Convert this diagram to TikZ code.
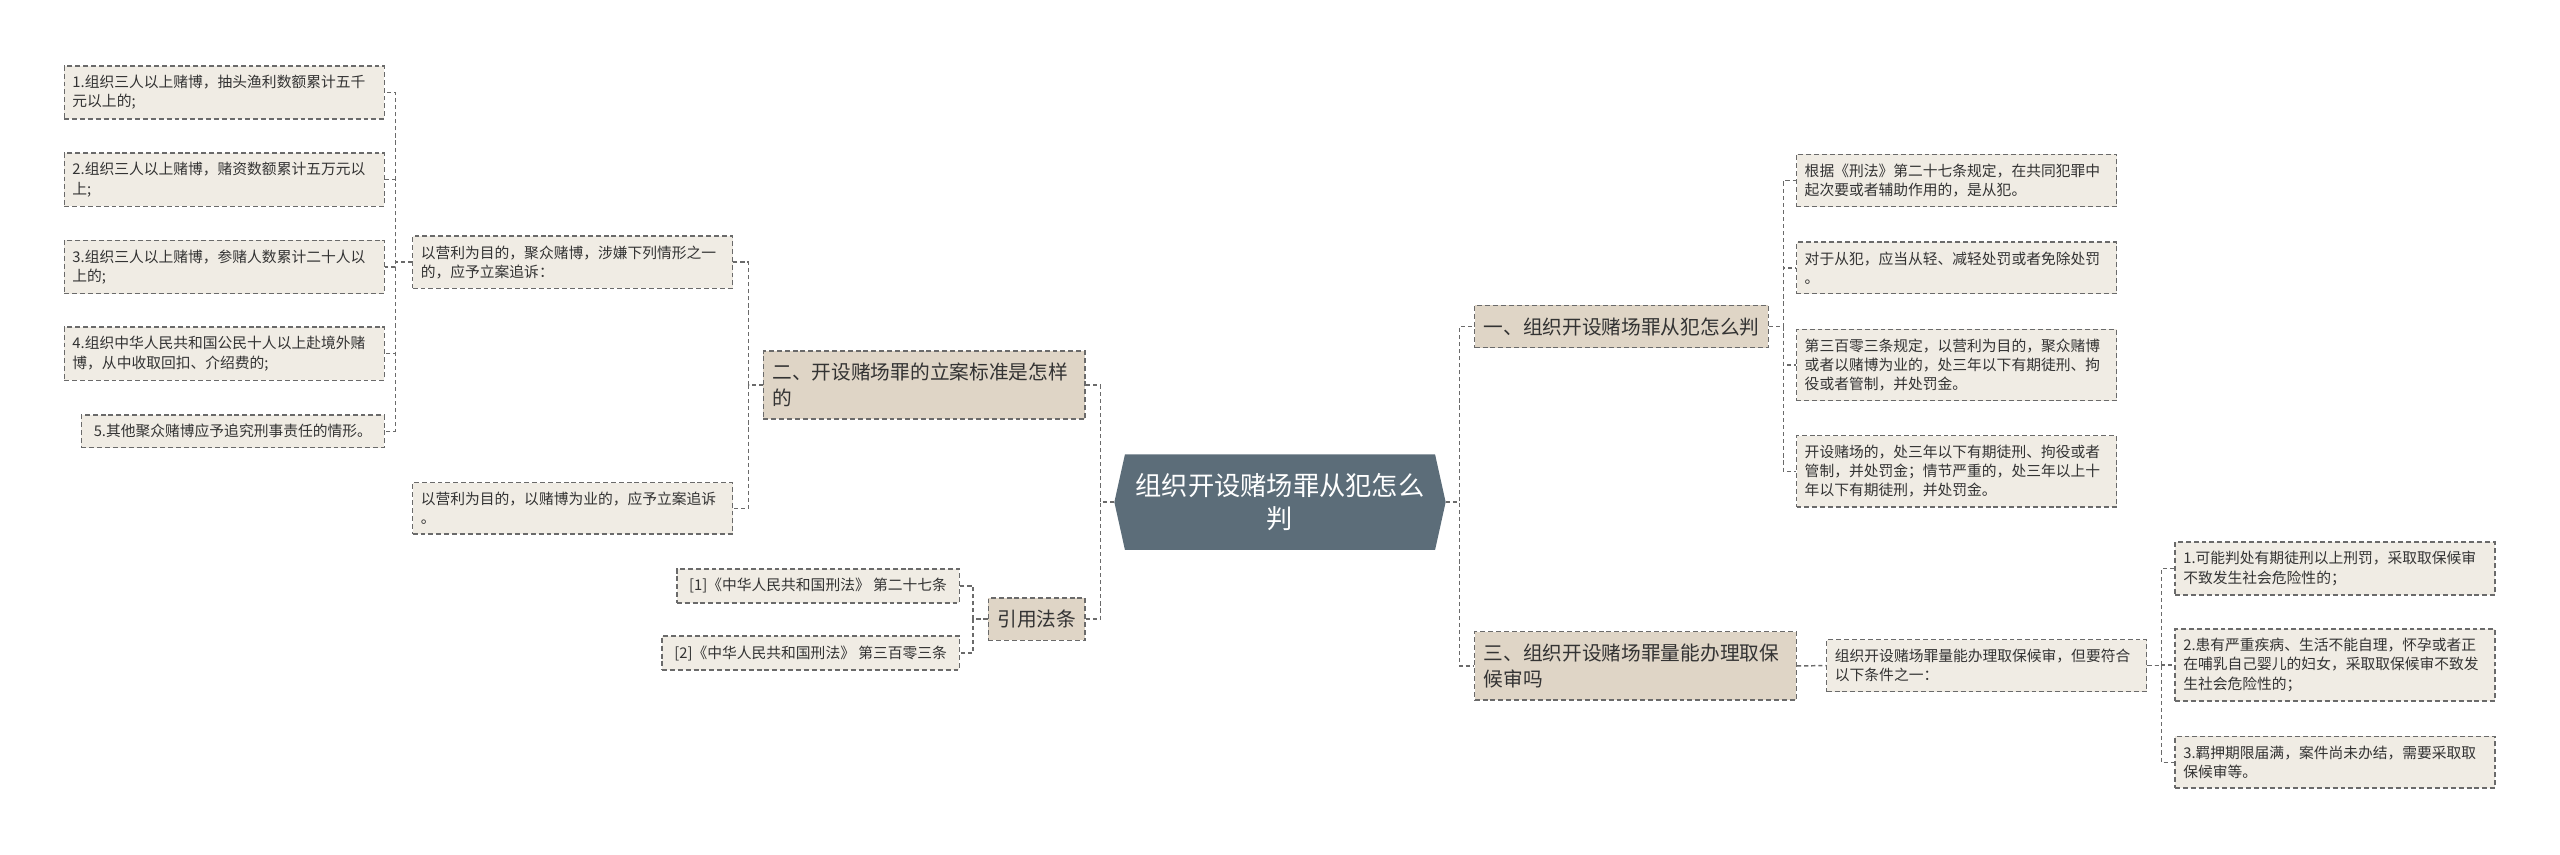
\documentclass[tikz,border=0pt]{standalone}
\usepackage{fontspec}
\setmainfont{Noto Sans CJK SC}
\usepackage{xcolor}
\usetikzlibrary{shapes.symbols, positioning}
\definecolor{leaffill}{HTML}{F0ECE4}
\definecolor{branchfill}{HTML}{DFD5C6}
\definecolor{rootfill}{HTML}{5C6D79}
\definecolor{edgegray}{HTML}{6A6A6A}
\definecolor{textgray}{HTML}{333333}

\begin{document}
\begin{tikzpicture}[
        x=1pt, y=-1pt,
        box/.style={draw=edgegray, line width=0.9pt, dash pattern=on 3pt off 1.8pt, text=textgray},
        leaf/.style={box, fill=leaffill, font=\fontsize{9}{11.6}\selectfont, align=left, inner xsep=7.5pt, inner ysep=5.8pt},
        wideleaf/.style={leaf, inner xsep=5pt, text width=185pt},
        branch/.style={box, fill=branchfill, font=\fontsize{12}{16}\selectfont, align=left, inner xsep=5.5pt, inner ysep=7.3pt},
        widebranch/.style={branch, text width=185pt},
        root/.style={shape=signal, signal to=west and east, signal pointer angle=155, fill=rootfill, text=white, font=\fontsize{16}{20.5}\selectfont, align=center, inner xsep=6.5pt, inner ysep=11.4pt},
        link/.style={draw=edgegray, line width=0.9pt, dash pattern=on 2.5pt off 1.8pt}
        ]
        \useasboundingbox (0,0) rectangle (1560,521);

        % Nodes
        \node[root] (root) at (780,306) {组织开设赌场罪从犯怎么\\判};

        \node[widebranch, anchor=east] (lian) at (661.7,234.7) {二、开设赌场罪的立案标准是怎样\\的};
        \node[branch, anchor=east] (fatiao) at (661.7,377.3) {引用法条};
        \node[branch, anchor=west] (congfan) at (898.2,199) {一、组织开设赌场罪从犯怎么判};
        \node[widebranch, anchor=west] (qubao) at (898.2,405.8) {三、组织开设赌场罪量能办理取保\\候审吗};

        \node[wideleaf, anchor=east] (juzhong) at (446.9,159.8) {以营利为目的，聚众赌博，涉嫌下列情形之一\\的，应予立案追诉：};
        \node[wideleaf, anchor=east] (weiye) at (446.9,309.8) {以营利为目的，以赌博为业的，应予立案追诉\\。};

        \node[wideleaf, anchor=east] (qing1) at (234.6,56.4) {1.组织三人以上赌博，抽头渔利数额累计五千\\元以上的;};
        \node[wideleaf, anchor=east] (qing2) at (234.6,109.5) {2.组织三人以上赌博，赌资数额累计五万元以\\上;};
        \node[wideleaf, anchor=east] (qing3) at (234.6,162.7) {3.组织三人以上赌博，参赌人数累计二十人以\\上的;};
        \node[wideleaf, anchor=east] (qing4) at (234.6,215.5) {4.组织中华人民共和国公民十人以上赴境外赌\\博，从中收取回扣、介绍费的;};
        \node[leaf, anchor=east] (qing5) at (234.6,262.8) {5.其他聚众赌博应予追究刑事责任的情形。};

        \node[leaf, anchor=east] (fa1) at (585,357) {[1]《中华人民共和国刑法》 第二十七条};
        \node[leaf, anchor=east] (fa2) at (585,398) {[2]《中华人民共和国刑法》 第三百零三条};

        \node[wideleaf, anchor=west] (cf1) at (1094.3,110) {根据《刑法》第二十七条规定，在共同犯罪中\\起次要或者辅助作用的，是从犯。};
        \node[wideleaf, anchor=west] (cf2) at (1094.3,163.3) {对于从犯，应当从轻、减轻处罚或者免除处罚\\。};
        \node[wideleaf, anchor=west] (cf3) at (1094.3,222.4) {第三百零三条规定，以营利为目的，聚众赌博\\或者以赌博为业的，处三年以下有期徒刑、拘\\役或者管制，并处罚金。};
        \node[wideleaf, anchor=west] (cf4) at (1094.3,287.2) {开设赌场的，处三年以下有期徒刑、拘役或者\\管制，并处罚金；情节严重的，处三年以上十\\年以下有期徒刑，并处罚金。};

        \node[wideleaf, anchor=west] (tiaojian) at (1112.7,405.6) {组织开设赌场罪量能办理取保候审，但要符合\\以下条件之一：};
        \node[wideleaf, anchor=west] (tj1) at (1325,346.4) {1.可能判处有期徒刑以上刑罚，采取取保候审\\不致发生社会危险性的；};
        \node[wideleaf, anchor=west] (tj2) at (1325,405.2) {2.患有严重疾病、生活不能自理，怀孕或者正\\在哺乳自己婴儿的妇女，采取取保候审不致发\\生社会危险性的；};
        \node[wideleaf, anchor=west] (tj3) at (1325,464.5) {3.羁押期限届满，案件尚未办结，需要采取取\\保候审等。};

        % Connectors
        \draw[link] (root.west) -- ++(-8.3,0) |- (lian.east);
        \draw[link] (root.west) -- ++(-8.3,0) |- (fatiao.east);
        \draw[link] (root.east) -- ++(8.1,0) |- (congfan.west);
        \draw[link] (root.east) -- ++(8.1,0) |- (qubao.west);

        \draw[link] (lian.west) -- ++(-8.6,0) |- (juzhong.east);
        \draw[link] (lian.west) -- ++(-8.6,0) |- (weiye.east);
        \draw[link] (fatiao.west) -- ++(-8.8,0) |- (fa1.east);
        \draw[link] (fatiao.west) -- ++(-8.8,0) |- (fa2.east);

        \draw[link] (juzhong.west) -- ++(-10,0) |- (qing1.east);
        \draw[link] (juzhong.west) -- ++(-10,0) |- (qing2.east);
        \draw[link] (juzhong.west) -- ++(-10,0) |- (qing3.east);
        \draw[link] (juzhong.west) -- ++(-10,0) |- (qing4.east);
        \draw[link] (juzhong.west) -- ++(-10,0) |- (qing5.east);

        \draw[link] (congfan.east) -- ++(8.7,0) |- (cf1.west);
        \draw[link] (congfan.east) -- ++(8.7,0) |- (cf2.west);
        \draw[link] (congfan.east) -- ++(8.7,0) |- (cf3.west);
        \draw[link] (congfan.east) -- ++(8.7,0) |- (cf4.west);

        \draw[link] (qubao.east) -- (tiaojian.west);
        \draw[link] (tiaojian.east) -- ++(8.5,0) |- (tj1.west);
        \draw[link] (tiaojian.east) -- ++(8.5,0) |- (tj2.west);
        \draw[link] (tiaojian.east) -- ++(8.5,0) |- (tj3.west);

\end{tikzpicture}
\end{document}
